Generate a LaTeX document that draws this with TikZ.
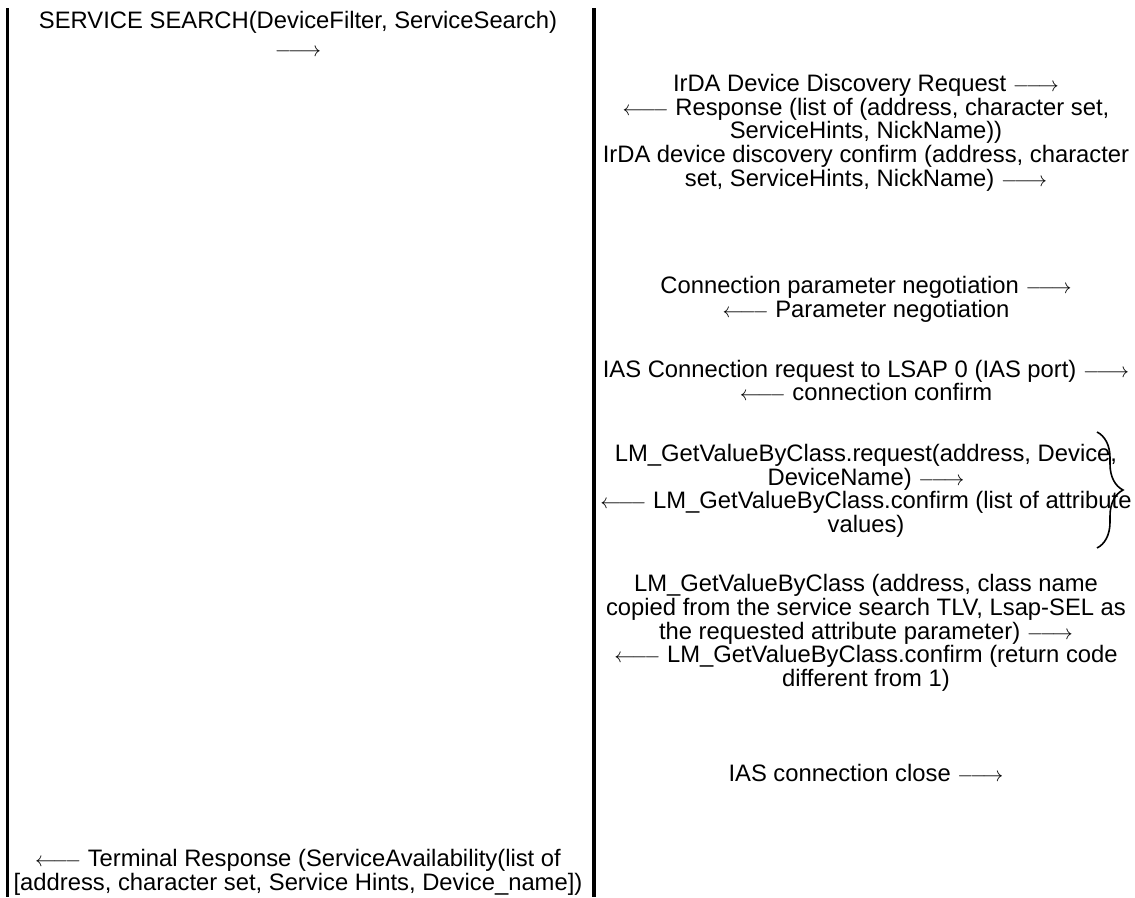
\documentclass[tikz,border=0pt]{standalone}
\usepackage{fontspec}
\setmainfont{Liberation Sans}
\usetikzlibrary{decorations.pathreplacing}
\newcommand{\myra}{{\fontsize{20.74}{20}\selectfont$\relbar\joinrel\relbar\joinrel\rightarrow$}}
\newcommand{\myla}{{\fontsize{20.74}{20}\selectfont$\leftarrow\joinrel\relbar\joinrel\relbar$}}
\begin{document}
\begin{tikzpicture}[x=1pt,y=-1pt,
  msg/.style={anchor=base, inner sep=0pt, font=\fontsize{23.8}{24}\selectfont},
  lifeline/.style={line width=3.5pt},
  bracestyle/.style={line width=1.6pt, decorate, decoration={brace, amplitude=26pt}}]
\clip (0,0) rectangle (1135,897);
\fill[white] (0,0) rectangle (1135,897);
% lifelines
\coordinate (la) at (7.5,8);
\coordinate (lb) at (7.5,897);
\coordinate (ma) at (594,8);
\coordinate (mb) at (594,897);
\draw[lifeline] (la) -- (lb);
\draw[lifeline] (ma) -- (mb);
% left column
\def\xl{298}
\def\xr{866}
\node[msg] (s1) at (\xl,28) {SERVICE SEARCH(DeviceFilter, ServiceSearch)};
\node[msg] (s2) at (\xl,56) {\myra};
% right column
\node[msg] (a1) at (\xr,91) {IrDA Device Discovery Request \myra};
\node[msg] (a2) at (\xr,115) {\myla{} Response (list of (address, character set,};
\node[msg] (a3) at (\xr,138.5) {ServiceHints, NickName))};
\node[msg] (a4) at (\xr,162) {IrDA device discovery confirm (address, character};
\node[msg] (a5) at (\xr,186) {set, ServiceHints, NickName) \myra};
\node[msg] (b1) at (\xr,293) {Connection parameter negotiation \myra};
\node[msg] (b2) at (\xr,317) {\myla{} Parameter negotiation};
\node[msg] (c1) at (\xr,377) {IAS Connection request to LSAP 0 (IAS port) \myra};
\node[msg] (c2) at (\xr,400.5) {\myla{} connection confirm};
\node[msg] (d1) at (\xr,461) {LM\_GetValueByClass.request(address, Device,};
\node[msg] (d2) at (\xr,485) {DeviceName) \myra};
\node[msg] (d3) at (\xr,508) {\myla{} LM\_GetValueByClass.confirm (list of attribute};
\node[msg] (d4) at (\xr,532) {values)};
\node[msg] (e1) at (\xr,591) {LM\_GetValueByClass (address, class name};
\node[msg] (e2) at (\xr,615) {copied from the service search TLV, Lsap-SEL as};
\node[msg] (e3) at (\xr,639) {the requested attribute parameter) \myra};
\node[msg] (e4) at (\xr,662) {\myla{} LM\_GetValueByClass.confirm (return code};
\node[msg] (e5) at (\xr,686) {different from 1)};
\node[msg] (f1) at (\xr,781) {IAS connection close \myra};
% left bottom
\node[msg] (t1) at (\xl,866) {\myla{} Terminal Response (ServiceAvailability(list of};
\node[msg] (t2) at (\xl,890) {[address, character set, Service Hints, Device\_name])};
% brace
\coordinate (bt) at (1097,432);
\coordinate (bb) at (1097,548);
\draw[bracestyle] (bt) -- (bb);
\end{tikzpicture}
\end{document}
